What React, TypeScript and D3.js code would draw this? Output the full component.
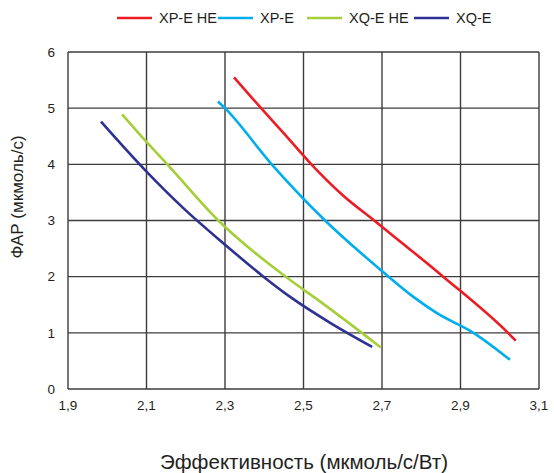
import React from "react";
import * as d3 from "d3";

const xTicks = [1.9, 2.1, 2.3, 2.5, 2.7, 2.9, 3.1];
const yTicks = [0, 1, 2, 3, 4, 5, 6];

const seriesNames = ["XP-E HE", "XP-E", "XQ-E HE", "XQ-E"];
const seriesColors = ["#ed1c24", "#00aeef", "#a6ce39", "#2e3192"];

const xpeHe: [number, number][] = [
  [2.323, 5.55], [2.392, 5.0], [2.45, 4.55], [2.52, 4.0], [2.6, 3.45], [2.68, 3.0],
  [2.856, 2.0], [3.021, 1.0], [3.041, 0.86],
];
const xpe: [number, number][] = [
  [2.282, 5.12], [2.3, 5.0], [2.419, 4.0], [2.555, 3.0], [2.7, 2.1],
  [2.78, 1.64], [2.84, 1.35], [2.933, 1.0], [3.026, 0.52],
];
const xqeHe: [number, number][] = [
  [2.038, 4.89], [2.1, 4.4], [2.153, 4.0], [2.283, 3.0], [2.466, 1.94],
  [2.534, 1.6], [2.697, 0.74],
];
const xqe: [number, number][] = [
  [1.984, 4.76], [2.1, 3.87], [2.2, 3.18], [2.3, 2.57], [2.398, 2.0],
  [2.466, 1.64], [2.57, 1.17], [2.675, 0.75],
];
const seriesData = [xpeHe, xpe, xqeHe, xqe];

const W = 554;
const H = 473;
const left = 68;
const right = 539;
const top = 52;
const bottom = 389;

export default function App() {
  const x = d3.scaleLinear().domain([1.9, 3.1]).range([left, right]);
  const y = d3.scaleLinear().domain([0, 6]).range([bottom, top]);
  const line = d3
    .line<[number, number]>()
    .x((d) => x(d[0]))
    .y((d) => y(d[1]))
    .curve(d3.curveMonotoneX);
  const fmt = (v: number) => v.toFixed(1).replace(".", ",");
  const legendX = [117, 218, 307, 414];
  const font = "'Liberation Sans', Arial, sans-serif";

  return (
    <svg
      width={W}
      height={H}
      style={{ position: "absolute", left: 0, top: 0, background: "#fff" }}
      fontFamily={font}
    >
      <rect x={0} y={0} width={W} height={H} fill="#fff" />
      {xTicks.map((t) => (
        <line key={"gx" + t} x1={x(t)} x2={x(t)} y1={top} y2={bottom} stroke="#3c3c3c" strokeWidth={1.4} />
      ))}
      {yTicks.map((t) => (
        <line key={"gy" + t} x1={left} x2={right} y1={y(t)} y2={y(t)} stroke="#3c3c3c" strokeWidth={1.4} />
      ))}
      {seriesData.map((d, i) => (
        <path key={"s" + i} d={line(d) || ""} fill="none" stroke={seriesColors[i]} strokeWidth={2.6} />
      ))}
      {xTicks.map((t) => (
        <text key={"tx" + t} x={x(t)} y={410} textAnchor="middle" fontSize={13.5} fill="#231f20">
          {fmt(t)}
        </text>
      ))}
      {yTicks.map((t) => (
        <text key={"ty" + t} x={55} y={y(t)} dy="0.35em" textAnchor="end" fontSize={13.5} fill="#231f20">
          {t}
        </text>
      ))}
      <text x={304} y={462} dy="0.35em" textAnchor="middle" fontSize={20.5} fill="#231f20">
        Эффективность (мкмоль/с/Вт)
      </text>
      <text
        transform={`translate(17, 197) rotate(-90)`}
        textAnchor="middle"
        dy="0.35em"
        fontSize={17}
        fill="#231f20"
      >
        ФАР (мкмоль/с)
      </text>
      {seriesNames.map((n, i) => (
        <g key={"l" + i}>
          <line x1={legendX[i]} x2={legendX[i] + 35} y1={18} y2={18} stroke={seriesColors[i]} strokeWidth={2.6} />
          <text x={legendX[i] + 42} y={18} dy="0.35em" fontSize={14.5} fill="#231f20">
            {n}
          </text>
        </g>
      ))}
    </svg>
  );
}
